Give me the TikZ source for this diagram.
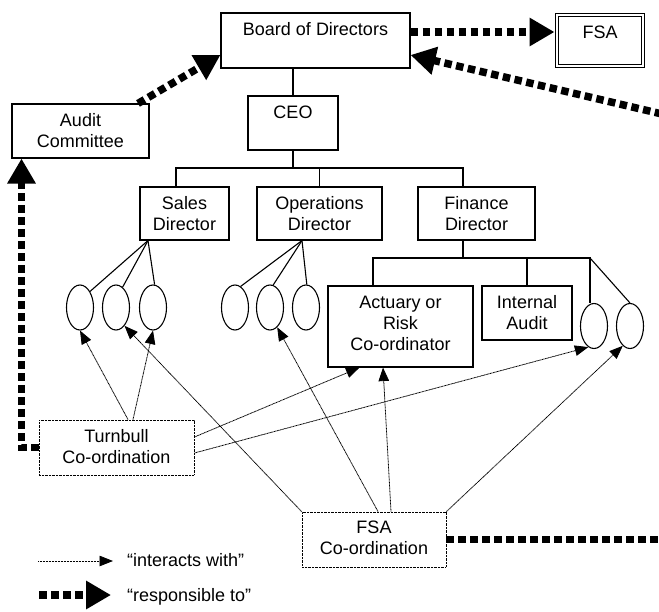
\documentclass[tikz,border=0pt]{standalone}
\usepackage{fontspec}
\setmainfont{Liberation Sans}
\usetikzlibrary{arrows.meta,shapes.geometric}
\begin{document}
\begin{tikzpicture}[x=1pt,y=-1pt,
  box/.style={draw, line width=1.1pt, inner sep=0pt},
  dotbox/.style={draw, line width=0.9pt, dash pattern=on 0.9pt off 0.5pt, inner sep=0pt},
  dblbox/.style={draw, double, double distance=2pt, line width=1pt, inner sep=0pt},
  lbl/.style={anchor=north, inner sep=0pt, align=center, font=\fontsize{18}{21}\selectfont},
  legtext/.style={anchor=base west, inner sep=0pt, font=\fontsize{18}{21}\selectfont},
  oval/.style={draw, ellipse, line width=1.1pt, minimum width=27pt, minimum height=45pt, inner sep=0pt},
  org/.style={line width=1.1pt},
  respline/.style={line width=7.5pt, dash pattern=on 7.5pt off 4.5pt},
  resp/.style={respline, -{Triangle[length=25pt,width=27pt]}},
  inter/.style={line width=0.8pt, dash pattern=on 1pt off 0.5pt, -{Triangle[length=13.5pt,width=10.5pt]}}
]
\useasboundingbox (0,0) rectangle (659,611);

% boxes
\node[box, minimum width=189pt, minimum height=55pt] (board) at (315.5,40.5) {};
\node[dblbox, minimum width=86pt, minimum height=51pt] (fsa) at (600,40.5) {};
\node[box, minimum width=90pt, minimum height=54pt] (ceo) at (293,123) {};
\node[box, minimum width=137pt, minimum height=54pt] (audit) at (80.5,131) {};
\node[box, minimum width=89pt, minimum height=53pt] (sales) at (184.5,213.5) {};
\node[box, minimum width=125pt, minimum height=53pt] (ops) at (319.5,213.5) {};
\node[box, minimum width=117pt, minimum height=53pt] (fin) at (476.5,213.5) {};
\node[box, minimum width=145pt, minimum height=81pt] (act) at (400.5,326.5) {};
\node[box, minimum width=90pt, minimum height=54pt] (ia) at (527,313) {};
\node[dotbox, minimum width=155pt, minimum height=55pt] (turn) at (116.5,447.5) {};
\node[dotbox, minimum width=144pt, minimum height=55pt] (fsac) at (374,539.5) {};

% labels
\node[lbl] (tboard) at ([yshift=-10pt]board.north) {Board of Directors};
\node[lbl] (tfsa) at ([yshift=-11pt]fsa.north) {FSA};
\node[lbl] (tceo) at ([yshift=-10pt]ceo.north) {CEO};
\node[lbl] (taudit) at ([yshift=-10pt]audit.north) {Audit\\Committee};
\node[lbl] (tsales) at ([yshift=-10pt]sales.north) {Sales\\Director};
\node[lbl] (tops) at ([yshift=-10pt]ops.north) {Operations\\Director};
\node[lbl] (tfin) at ([yshift=-10pt]fin.north) {Finance\\Director};
\node[lbl] (tact) at ([yshift=-10pt]act.north) {Actuary or\\Risk\\Co-ordinator};
\node[lbl] (tia) at ([yshift=-10pt]ia.north) {Internal\\Audit};
\node[lbl] (tturn) at ([yshift=-10pt]turn.north) {Turnbull\\Co-ordination};
\node[lbl] (tfsac) at ([yshift=-9pt]fsac.north) {FSA\\Co-ordination};

% ellipses
\node[oval] (e1) at (80,307.5) {};
\node[oval] (e2) at (116,307.5) {};
\node[oval] (e3) at (153,307.5) {};
\node[oval] (e4) at (235,307.5) {};
\node[oval] (e5) at (270,307.5) {};
\node[oval] (e6) at (306,307.5) {};
\node[oval] (e7) at (594,326) {};
\node[oval] (e8) at (630,326) {};

% org chart lines
\coordinate (cbl) at (176,168);
\coordinate (cbr) at (463,168);
\draw[org] (ceo.north) -- (ceo.north |- board.south);
\draw[org] (ceo.south) -- (ceo.south |- cbl);
\draw[org] (cbl |- sales.north) -- (cbl) -- (cbr) -- (cbr |- fin.north);
\draw[org] (ops.north |- cbl) -- (ops.north);

\coordinate (sd) at ([xshift=-36.5pt]sales.south);
\draw[org] (sd) -- (e1.58);
\draw[org] (sd) -- (e2.72);
\draw[org] (sd) -- (e3.86);
\coordinate (od) at ([xshift=-17.5pt]ops.south);
\draw[org] (od) -- (e4.75);
\draw[org] (od) -- (e5.82);
\draw[org] (od) -- (e6.88);

\coordinate (fd) at ([xshift=-13.5pt]fin.south);
\coordinate (fbl) at (373,258);
\coordinate (fbr) at (590,258);
\draw[org] (fd) -- (fd |- fbl);
\draw[org] (fbl |- act.north) -- (fbl) -- (fbr) -- (fbr |- e7.north);
\draw[org] (ia.north |- fbl) -- (ia.north);
\draw[org] (fbr) -- (e8.north);

% interacts with
\draw[inter] ([xshift=11.5pt]turn.north) -- (e1.south);
\draw[inter] ([xshift=16.5pt]turn.north) -- (e3.south);
\draw[inter] ([yshift=10.5pt]turn.east) -- ([xshift=-41pt]act.south);
\draw[inter] ([yshift=-5.5pt]turn.east) -- (e7.255);
\draw[inter] (fsac.north west) -- (e2.295);
\draw[inter] ([xshift=4pt]fsac.north) -- (e5.290);
\draw[inter] ([xshift=17pt]fsac.north) -- ([xshift=-17.5pt]act.south);
\draw[inter] (fsac.north east) -- (e8.250);

% responsible to
\coordinate (edgeA) at (662,114);
\coordinate (edgeB) at (662,539.5);
\draw[resp] ([yshift=8.5pt]board.east) -- ([yshift=8.5pt,xshift=-2pt]fsa.west);
\draw[resp] (edgeA) -- ([yshift=-14.5pt]board.east);
\draw[resp] ([xshift=57.5pt]audit.north) -- ([yshift=-14.5pt]board.west);
\draw[resp] (turn.west) -| ([xshift=-59pt]audit.south);
\draw[respline] (fsac.east) -- (edgeB);

% legend
\coordinate (l1a) at (38,561);
\coordinate (l1b) at (113,561);
\coordinate (l2a) at (39,595);
\coordinate (l2b) at (111,595);
\draw[inter] (l1a) -- (l1b);
\draw[resp] (l2a) -- (l2b);
\node[legtext] (leg1) at (127,566) {“interacts with”};
\node[legtext] (leg2) at (127,601) {“responsible to”};
\end{tikzpicture}
\end{document}
